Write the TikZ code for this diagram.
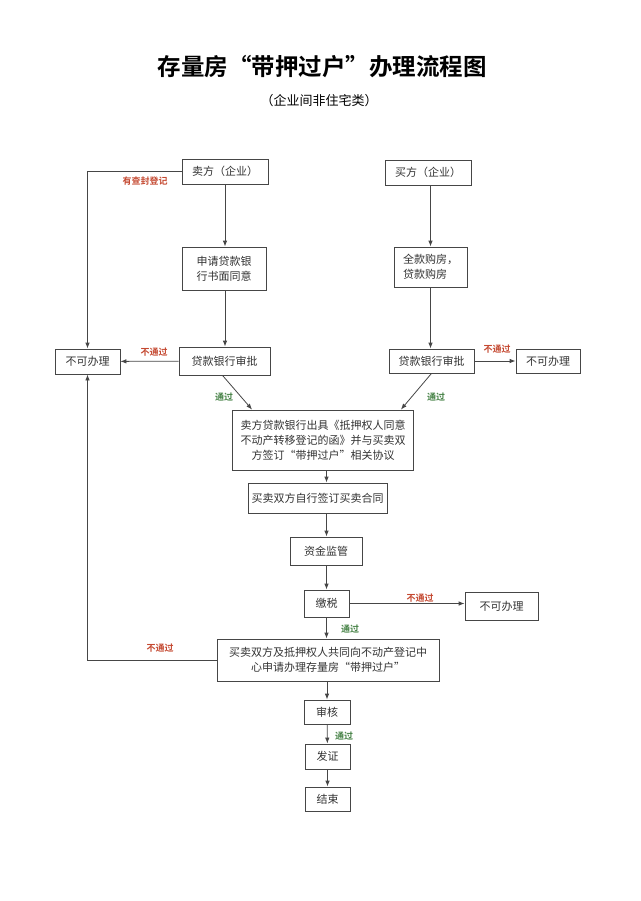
\documentclass[tikz,border=0pt]{standalone}
\usepackage{fontspec}
\newfontfamily\cjk[BoldFont={* Bold}]{Noto Sans CJK SC}
\usetikzlibrary{arrows.meta}
\definecolor{linegray}{RGB}{70,70,70}
\definecolor{nored}{RGB}{196,72,48}
\definecolor{okgreen}{RGB}{70,130,70}
\tikzset{
    box/.style={draw=linegray, line width=0.8pt, fill=white, font=\cjk\fontsize{11}{15}\selectfont, text=black!80, align=center, inner sep=2pt},
    arr/.style={-{Latex[length=6pt,width=4.5pt]}, line width=0.8pt, draw=linegray},
    nolab/.style={font=\cjk\bfseries\fontsize{9}{11}\selectfont, text=nored},
    oklab/.style={font=\cjk\bfseries\fontsize{9}{11}\selectfont, text=okgreen}
}
\begin{document}
\begin{tikzpicture}[x=1pt, y=-1pt]
    \useasboundingbox (0,0) rectangle (640,901);

    % ==================== 标题 ====================
    \node[font=\cjk\bfseries\fontsize{23.5}{26}\selectfont] (title) at (322,67) {存量房“带押过户”办理流程图};
    \node[font=\cjk\fontsize{13}{16}\selectfont] (subtitle) at (319,101) {（企业间非住宅类）};

    % ==================== 卖方一侧 ====================
    \node[box, minimum width=86, minimum height=25] (seller) at (225,171.5) {卖方（企业）};
    \node[box, minimum width=84, minimum height=43] (apply) at (224,268.5) {申请贷款银\\行书面同意};
    \node[box, minimum width=91, minimum height=28] (approveL) at (224.5,361) {贷款银行审批};
    \node[box, minimum width=65, minimum height=25] (nokL) at (87.5,361.5) {不可办理};

    % ==================== 买方一侧 ====================
    \node[box, minimum width=86, minimum height=25] (buyer) at (428,172.5) {买方（企业）};
    \node[box, minimum width=73, minimum height=40, align=left] (pay) at (430.5,267) {全款购房，\\贷款购房};
    \node[box, minimum width=85, minimum height=24] (approveR) at (431.5,361) {贷款银行审批};
    \node[box, minimum width=64, minimum height=24] (nokR) at (548,361) {不可办理};

    % ==================== 中间主流程 ====================
    \node[box, minimum width=181, minimum height=60] (agree) at (323,440) {卖方贷款银行出具《抵押权人同意\\不动产转移登记的函》并与买卖双\\方签订“带押过户”相关协议};
    \node[box, minimum width=139, minimum height=30] (contract) at (317.5,498) {买卖双方自行签订买卖合同};
    \node[box, minimum width=72, minimum height=28] (escrow) at (326,551) {资金监管};
    \node[box, minimum width=45, minimum height=27] (tax) at (326.5,603.5) {缴税};
    \node[box, minimum width=73, minimum height=28] (nokT) at (501.5,606) {不可办理};
    \node[box, minimum width=222, minimum height=42] (register) at (328,660) {买卖双方及抵押权人共同向不动产登记中\\心申请办理存量房“带押过户”};
    \node[box, minimum width=46, minimum height=24] (check) at (327,712) {审核};
    \node[box, minimum width=45, minimum height=25] (cert) at (327.5,756.5) {发证};
    \node[box, minimum width=45, minimum height=24] (finish) at (327.5,799) {结束};

    % ==================== 连线 ====================
    \draw[arr] (seller.south) -- (apply.north -| seller);
    \draw[arr] (apply.south -| seller) -- (approveL.north -| seller);
    \draw[arr] (seller.west) -| (nokL.north);
    \draw[arr] (approveL) -- (nokL);
    \draw[arr] ([xshift=-2pt]approveL.south) -- ([xshift=20pt]agree.north west);

    \draw[arr] (buyer.south -| pay) -- (pay.north);
    \draw[arr] (pay.south) -- (approveR.north -| pay);
    \draw[arr] (approveR) -- (nokR);
    \draw[arr] (approveR.south) -- ([xshift=-13pt]agree.north east);

    \draw[arr] (agree.south -| tax) -- (contract.north -| tax);
    \draw[arr] (contract.south -| tax) -- (escrow.north -| tax);
    \draw[arr] (escrow.south -| tax) -- (tax.north);
    \draw[arr] (tax) -- (tax -| nokT.west);
    \draw[arr] (tax.south) -- (register.north -| tax);
    \draw[arr] (register.west) -| (nokL.south);
    \draw[arr] (register.south -| check) -- (check.north);
    \draw[arr] (check) -- (cert);
    \draw[arr] (cert) -- (finish);

    % ==================== 标注 ====================
    \node[nolab] (labSeal) at (145,181) {有查封登记};
    \node[nolab] (labNoL) at (154,352) {不通过};
    \node[oklab] (labOkL) at (224,397) {通过};
    \node[oklab] (labOkR) at (436,397) {通过};
    \node[nolab] (labNoR) at (497,349) {不通过};
    \node[nolab] (labNoT) at (420,598) {不通过};
    \node[oklab] (labOkT) at (350,629) {通过};
    \node[nolab] (labNoB) at (160,648) {不通过};
    \node[oklab] (labOkC) at (344,736) {通过};
\end{tikzpicture}
\end{document}
